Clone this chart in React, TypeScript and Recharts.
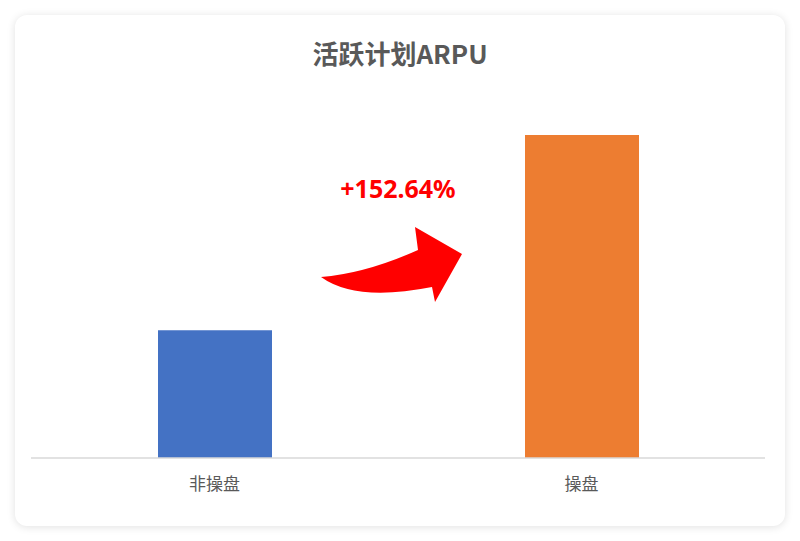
import React from 'react';
import { BarChart, Bar, XAxis, YAxis, Cell } from 'recharts';

const categories = ['非操盘', '操盘'];
const arpuValues = [100, 252.64];
const barColors = ['#4472C4', '#ED7D31'];
const growthLabel = '+152.64%';

const chartData = categories.map((name, i) => ({ name, value: arpuValues[i] }));

const font = '"Noto Sans CJK SC", "Noto Sans", sans-serif';

const App: React.FC = () => {
  return (
    <div style={{ position: 'fixed', left: 0, top: 0, width: 800, height: 541, background: '#ffffff', fontFamily: font }}>
      <div
        style={{
          position: 'absolute',
          left: 15,
          top: 15,
          width: 770,
          height: 511,
          borderRadius: 12,
          background: '#ffffff',
          boxShadow: '0 1px 8px rgba(0,0,0,0.12)',
        }}
      >
        <div
          style={{
            position: 'absolute',
            left: 0,
            top: 20,
            width: 770,
            textAlign: 'center',
            fontSize: 26,
            lineHeight: '36px',
            fontWeight: 'bold',
            color: '#595959',
          }}
        >
          活跃计划ARPU
        </div>
        <BarChart width={770} height={511} data={chartData} margin={{ top: 120, right: 20, bottom: 38, left: 16 }}>
          <XAxis
            dataKey="name"
            tickLine={false}
            axisLine={{ stroke: '#d9d9d9', strokeWidth: 1.5 }}
            tick={{ fill: '#595959', fontSize: 17, fontFamily: font }}
            tickMargin={14}
            height={30}
          />
          <YAxis hide domain={[0, 'dataMax']} />
          <Bar dataKey="value" barSize={114} isAnimationActive={false}>
            {chartData.map((d, i) => (
              <Cell key={d.name} fill={barColors[i]} />
            ))}
          </Bar>
        </BarChart>
      </div>
      <svg width={800} height={541} style={{ position: 'absolute', left: 0, top: 0, pointerEvents: 'none' }}>
        <path
          d="M321,277 Q365.5,273.5 418,250 L415,227 L462,254 L435,302 L432,287 Q355.5,302 321,277 Z"
          fill="#FF0000"
        />
        <text
          x={398}
          y={198}
          textAnchor="middle"
          fill="#FF0000"
          fontSize={25}
          fontWeight="bold"
          fontFamily={'"Noto Sans", "Liberation Sans", sans-serif'}
        >
          {growthLabel}
        </text>
      </svg>
    </div>
  );
};

export default App;
